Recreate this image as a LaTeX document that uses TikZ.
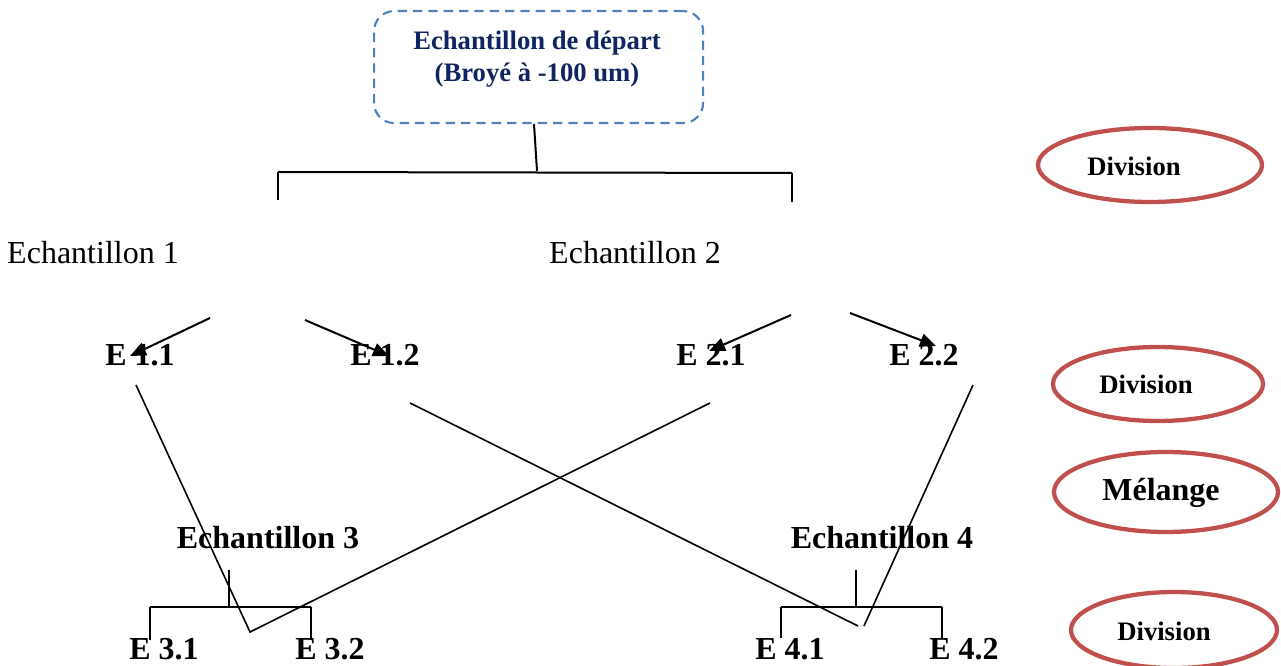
\documentclass[tikz,border=0pt]{standalone}
\usepackage{fontspec}
\setmainfont{Liberation Serif}
\usetikzlibrary{arrows.meta,shapes.geometric}
\definecolor{boxblue}{RGB}{79,129,189}
\definecolor{navytext}{RGB}{16,36,96}
\definecolor{ovalred}{RGB}{192,80,77}
\begin{document}
\begin{tikzpicture}[x=0.75pt,y=-0.75pt,
  link/.style={line width=1.5pt,black},
  splitarrow/.style={link,-{Triangle[length=12pt,width=10pt]}},
  plain/.style={inner sep=0pt,font=\fontsize{24}{28}\selectfont},
  label/.style={inner sep=0pt,font=\bfseries\fontsize{24}{28}\selectfont},
  oval/.style={draw=ovalred,line width=3.2pt,ellipse,inner sep=0pt},
  ovaltext/.style={inner sep=0pt,font=\bfseries\fontsize{20}{24}\selectfont}]
\useasboundingbox (0,0) rectangle (1281,666);

% starting sample
\node[draw=boxblue,line width=1.6pt,dash pattern=on 7pt off 4.5pt,rounded corners=15pt,
      minimum width=329*0.75pt,minimum height=112*0.75pt,inner sep=0pt,anchor=north west]
      (start) at (373,10) {};
\node[inner sep=0pt,align=center,text=navytext,font=\bfseries\fontsize{20}{24}\selectfont]
      (starttxt) at (537,59) {Echantillon de départ\\(Broyé à -100 um)};

% first division bracket
\coordinate (d0a) at (534,124);
\coordinate (d0b) at (537,171);
\coordinate (br0l) at (278,172);
\coordinate (br0r) at (792,173);
\coordinate (br0ld) at (278,200);
\coordinate (br0rd) at (792,202);
\draw[link] (d0a) -- (d0b);
\draw[link] (br0l) -- (br0r);
\draw[link] (br0l) -- (br0ld);
\draw[link] (br0r) -- (br0rd);

\node[plain] (ech1) at (93,253) {Echantillon 1};
\node[plain] (ech2) at (635,253) {Echantillon 2};

% second division
\node[label] (e11) at (140,355) {E 1.1};
\node[label] (e12) at (385,355) {E 1.2};
\node[label] (e21) at (711,355) {E 2.1};
\node[label] (e22) at (924,355) {E 2.2};

\coordinate (a1s) at (210,318);
\coordinate (a1e) at (130,356);
\coordinate (a2s) at (305,320);
\coordinate (a2e) at (389,356);
\coordinate (a3s) at (791,315);
\coordinate (a3e) at (709,351);
\coordinate (a4s) at (850,313);
\coordinate (a4e) at (936,346);
\draw[splitarrow] (a1s) -- (a1e);
\draw[splitarrow] (a2s) -- (a2e);
\draw[splitarrow] (a3s) -- (a3e);
\draw[splitarrow] (a4s) -- (a4e);

% mixing lines
\coordinate (m1) at (136,385);
\coordinate (m2) at (710,403);
\coordinate (m3) at (410,403);
\coordinate (m4) at (973,385);
\coordinate (v3) at (250,632);
\coordinate (v4l) at (858,626);
\coordinate (v4r) at (864,626);
\draw[link,line width=1.2pt] (m1) -- (v3) -- (m2);
\draw[link,line width=1.2pt] (m3) -- (v4l);
\draw[link,line width=1.2pt] (v4r) -- (m4);

\node[label] (ech3) at (268,538) {Echantillon 3};
\node[label] (ech4) at (882,538) {Echantillon 4};

% third division brackets
\coordinate (s3t) at (229,570);
\coordinate (s3b) at (229,607);
\coordinate (b3l) at (150,607);
\coordinate (b3r) at (311,607);
\coordinate (b3ld) at (150,640);
\coordinate (b3rd) at (311,640);
\draw[link] (s3t) -- (s3b);
\draw[link] (b3l) -- (b3r);
\draw[link] (b3l) -- (b3ld);
\draw[link] (b3r) -- (b3rd);

\coordinate (s4t) at (856,570);
\coordinate (s4b) at (856,607);
\coordinate (b4l) at (781,607);
\coordinate (b4r) at (942,607);
\coordinate (b4ld) at (781,638);
\coordinate (b4rd) at (942,638);
\draw[link] (s4t) -- (s4b);
\draw[link] (b4l) -- (b4r);
\draw[link] (b4l) -- (b4ld);
\draw[link] (b4r) -- (b4rd);

\node[label] (e31) at (164,649) {E 3.1};
\node[label] (e32) at (330,649) {E 3.2};
\node[label] (e41) at (790,649) {E 4.1};
\node[label] (e42) at (964,649) {E 4.2};

% step legend
\node[oval,minimum width=224*0.75pt,minimum height=74*0.75pt] (o1) at (1150,165) {};
\node[ovaltext] (t1) at (1134,166) {Division};
\node[oval,minimum width=210*0.75pt,minimum height=74*0.75pt] (o2) at (1158,384) {};
\node[ovaltext] (t2) at (1146,384) {Division};
\node[oval,minimum width=224*0.75pt,minimum height=80*0.75pt] (o3) at (1166,492) {};
\node[ovaltext,font=\bfseries\fontsize{24}{28}\selectfont] (t3) at (1161,493) {Mélange};
\node[oval,minimum width=206*0.75pt,minimum height=76*0.75pt] (o4) at (1174,630) {};
\node[ovaltext] (t4) at (1164,631) {Division};
\end{tikzpicture}
\end{document}
